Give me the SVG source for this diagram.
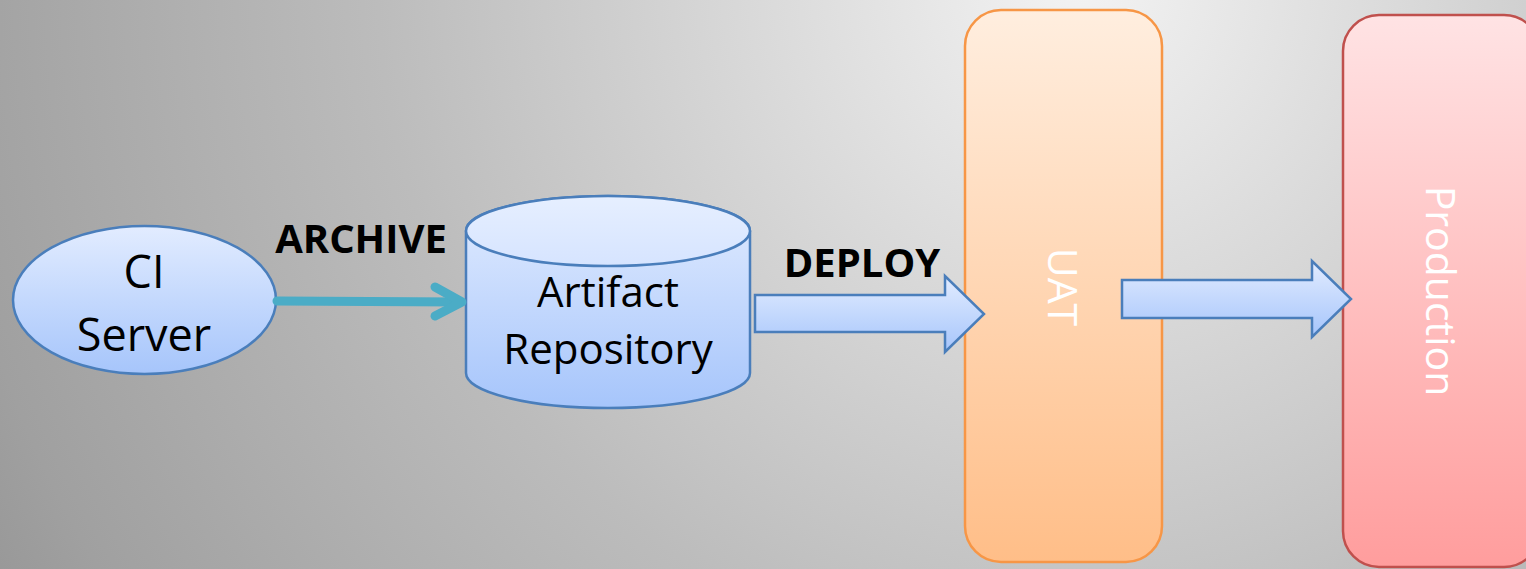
<svg xmlns="http://www.w3.org/2000/svg" width="1526" height="569" viewBox="0 0 1526 569">
  <defs>
    <radialGradient id="bg" gradientUnits="userSpaceOnUse" cx="1080" cy="-20" r="1300">
      <stop offset="0" stop-color="#f3f3f3"/>
      <stop offset="0.54" stop-color="#bcbcbc"/>
      <stop offset="0.88" stop-color="#a0a0a0"/>
      <stop offset="1" stop-color="#939393"/>
    </radialGradient>
    <linearGradient id="blue" x1="0" y1="0" x2="0" y2="1">
      <stop offset="0" stop-color="#e2ecff"/>
      <stop offset="1" stop-color="#a6c5fb"/>
    </linearGradient>
    <linearGradient id="blueTop" x1="0" y1="0" x2="0" y2="1">
      <stop offset="0" stop-color="#e6efff"/>
      <stop offset="1" stop-color="#d6e4ff"/>
    </linearGradient>
    <linearGradient id="orange" x1="0" y1="0" x2="0" y2="1">
      <stop offset="0" stop-color="#ffeedf"/>
      <stop offset="1" stop-color="#ffbe88"/>
    </linearGradient>
    <linearGradient id="red" x1="0" y1="0" x2="0" y2="1">
      <stop offset="0" stop-color="#ffe3e4"/>
      <stop offset="1" stop-color="#ff9d9d"/>
    </linearGradient>
  </defs>
  <style>
    .shape { fill: url(#blue); stroke: #4a7ebb; stroke-width: 2.5; }
    .label { font-family: "Open Sans", "Noto Sans", sans-serif; font-size: 42px; fill: #000; text-anchor: middle; }
    .big { font-size: 45px; }
    .edge { font-family: "Open Sans", "Noto Sans", sans-serif; font-size: 40px; font-weight: bold; fill: #000; text-anchor: middle; }
    .env { font-family: "Open Sans", "Noto Sans", sans-serif; font-size: 41px; fill: #fff; text-anchor: middle; }
    .teal { fill: none; stroke: #4bacc6; stroke-width: 9; stroke-linecap: round; stroke-linejoin: round; }
  </style>

  <rect width="1526" height="569" fill="url(#bg)"/>

  <g id="ci-server">
    <ellipse class="shape" cx="144.5" cy="300" rx="131.5" ry="74"/>
    <text class="label big" x="144" y="288">CI</text>
    <text class="label big" x="144" y="351">Server</text>
  </g>

  <g id="artifact-repository">
    <path class="shape" d="M466 231 V373 A142 35 0 0 0 750 373 V231 A142 35 0 0 0 466 231 Z"/>
    <ellipse cx="608" cy="231" rx="142" ry="35" fill="url(#blueTop)" stroke="#4a7ebb" stroke-width="2.5"/>
    <text class="label" x="608" y="307">Artifact</text>
    <text class="label" x="608" y="364">Repository</text>
  </g>

  <g id="uat">
    <rect x="965" y="10" width="197" height="552" rx="36" fill="url(#orange)" stroke="#f79646" stroke-width="2.5"/>
    <text class="env" transform="translate(1048 287) rotate(90)">UAT</text>
  </g>

  <g id="production">
    <rect x="1343" y="15" width="197" height="552" rx="36" fill="url(#red)" stroke="#c0504d" stroke-width="2.5"/>
    <text class="env" transform="translate(1426 291) rotate(90)">Production</text>
  </g>

  <g id="connectors">
    <!-- archive: CI server to repository -->
    <line class="teal" x1="277" y1="301" x2="460" y2="302"/>
    <polyline class="teal" points="435,287 462,302 435,316"/>
    <text class="edge" x="361" y="253">ARCHIVE</text>

    <!-- deploy: repository to UAT -->
    <path class="shape" d="M755 295 H945 V276 L984 314 L945 352 V332 H755 Z"/>
    <text class="edge" x="862" y="277">DEPLOY</text>

    <!-- promote: UAT to production -->
    <path class="shape" d="M1122 280 H1312 V261 L1351 299 L1312 337 V318 H1122 Z"/>
  </g>
</svg>
